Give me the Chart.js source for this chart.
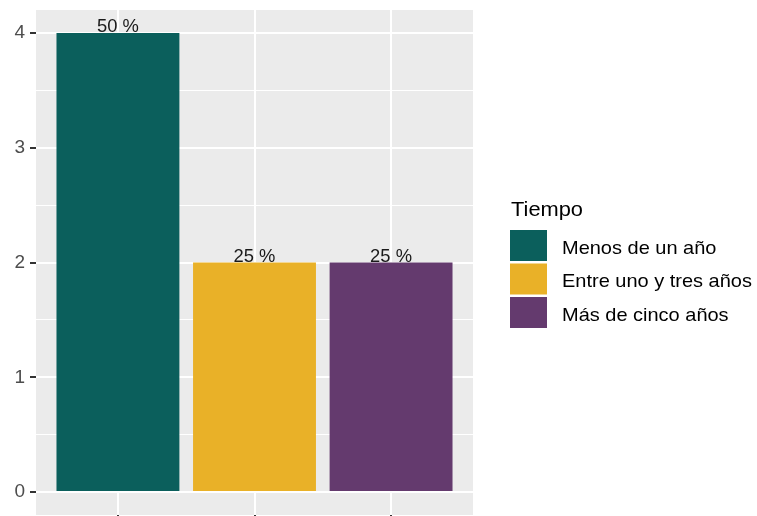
<!DOCTYPE html>
<html>
<head>
<meta charset="utf-8">
<script src="https://cdn.jsdelivr.net/npm/chart.js@4"></script>
<style>
  html, body { margin: 0; padding: 0; background: #fff; }
  #wrap { width: 757px; height: 516px; }
</style>
</head>
<body>
<div id="wrap"><canvas id="myChart" width="757" height="516"></canvas></div>
<script>
const categories = ["Menos de un año", "Entre uno y tres años", "Más de cinco años"];
const counts = [4, 2, 2];
const pctLabels = ["50 %", "25 %", "25 %"];
const barColors = ["#0B5F5C", "#E9B128", "#643A6E"];
const yTicks = [0, 0.5, 1, 1.5, 2, 2.5, 3, 3.5, 4];
const legendTitle = "Tiempo";

const FONT = "'Liberation Sans', Arial, sans-serif";

// grey panel behind the plot, like ggplot
const panelBg = {
  id: "panelBg",
  beforeDraw(chart) {
    const a = chart.chartArea, ctx = chart.ctx;
    ctx.save();
    ctx.fillStyle = "#EBEBEB";
    ctx.fillRect(a.left, a.top, a.right - a.left, a.bottom - a.top);
    ctx.restore();
  }
};

// text slightly wider than normal, the reference looks stretched
function wideText(ctx, txt, x, y, sx) {
  ctx.save();
  ctx.translate(x, y);
  ctx.scale(sx, 1);
  ctx.fillText(txt, 0, 0);
  ctx.restore();
}

// percent labels over the bars + legend on the right
const extras = {
  id: "extras",
  afterDatasetsDraw(chart) {
    const ctx = chart.ctx;
    const meta = chart.getDatasetMeta(0);
    ctx.save();
    ctx.fillStyle = "#1a1a1a";
    ctx.font = "17.5px " + FONT;
    ctx.textAlign = "center";
    ctx.textBaseline = "alphabetic";
    meta.data.forEach((bar, i) => {
      wideText(ctx, pctLabels[i], bar.x, bar.y - 1, 1.05);
    });

    // legend
    const lx = 510, ly = 230, kw = 37, kh = 31, gap = 2;
    ctx.textAlign = "left";
    ctx.fillStyle = "#000";
    ctx.font = "21px " + FONT;
    wideText(ctx, legendTitle, lx + 1, 216, 1.04);
    ctx.font = "18.5px " + FONT;
    categories.forEach((c, i) => {
      const y = ly + i * (kh + gap + 0.5);
      ctx.fillStyle = barColors[i];
      ctx.fillRect(lx, y, kw, kh);
      ctx.fillStyle = "#000";
      wideText(ctx, c, 562, y + kh / 2 + 8, 1.08);
    });
    ctx.restore();
  }
};

new Chart("myChart", {
  type: "bar",
  data: {
    datasets: [{
      data: categories.map((c, i) => ({ x: i + 1, y: counts[i] })),
      backgroundColor: barColors,
      borderWidth: 0,
      barPercentage: 0.9,
      categoryPercentage: 1.0
    }]
  },
  options: {
    responsive: false,
    animation: false,
    layout: { padding: { left: 0, right: 284, top: 10, bottom: 0 } },
    plugins: {
      legend: { display: false },
      tooltip: { enabled: false }
    },
    scales: {
      x: {
        type: "linear",
        offset: false,
        min: 0.4,
        max: 3.6,
        afterBuildTicks: (s) => { s.ticks = categories.map((c, i) => ({ value: i + 1 })); },
        afterFit: (s) => { s.height = 1; s.paddingLeft = 0; s.paddingRight = 0; },
        border: { display: false },
        grid: { offset: false, color: "#FFFFFF", lineWidth: 2, tickColor: "#333333", tickLength: 5 },
        ticks: { display: false }
      },
      y: {
        min: -0.2,
        max: 4.2,
        afterBuildTicks: (s) => { s.ticks = yTicks.map(v => ({ value: v })); },
        afterFit: (s) => { s.width = 36; s.paddingTop = 0; s.paddingBottom = 0; },
        border: { display: false },
        grid: {
          color: "#FFFFFF",
          lineWidth: (c) => Number.isInteger(c.tick.value) ? 2 : 1,
          tickColor: (c) => Number.isInteger(c.tick.value) ? "#333333" : "rgba(0,0,0,0)",
          tickLength: 6
        },
        ticks: {
          autoSkip: false,
          padding: 5,
          color: "#4D4D4D",
          font: { family: FONT, size: 19 },
          callback: (v) => Number.isInteger(v) ? String(v) : ""
        }
      }
    }
  },
  plugins: [panelBg, extras]
});
</script>
</body>
</html>
